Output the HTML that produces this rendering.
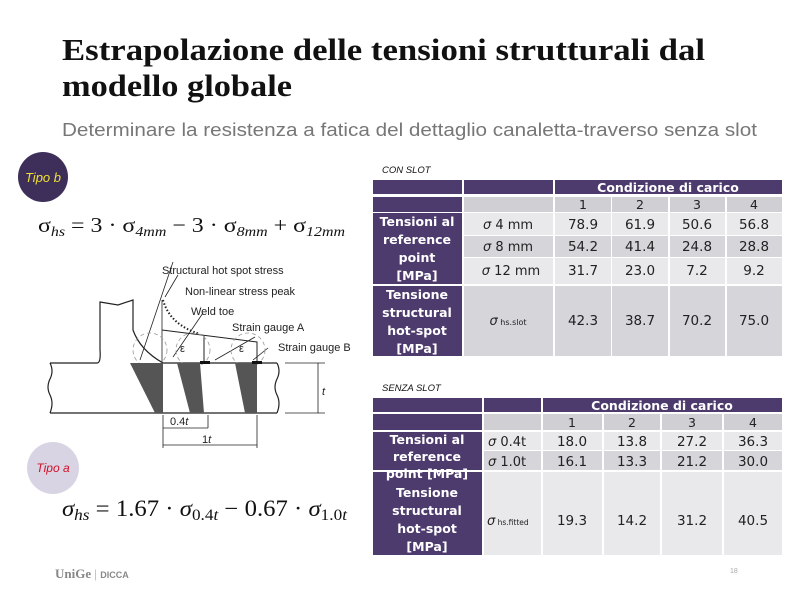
<!DOCTYPE html>
<html><head><meta charset="utf-8"><style>
html,body{margin:0;padding:0;background:#fff;width:800px;height:600px;overflow:hidden}
svg{display:block}
.lab{font-family:"DejaVu Sans","Liberation Sans",sans-serif;font-weight:bold;fill:#fff;font-size:12.5px}
.num{font-family:"DejaVu Sans","Liberation Sans",sans-serif;fill:#222;font-size:13.5px}
.hd{font-family:"DejaVu Sans","Liberation Sans",sans-serif;fill:#222;font-size:12.5px}
.sg{font-family:"DejaVu Sans","Liberation Sans",sans-serif;fill:#222;font-size:13px}
.dg{font-family:"Liberation Sans",sans-serif;fill:#222;font-size:11px}
</style></head><body>
<svg width="800" height="600" viewBox="0 0 800 600" xmlns="http://www.w3.org/2000/svg">
<rect width="800" height="600" fill="#fff"/>
<!-- Title -->
<text x="62" y="60" font-family="Liberation Serif,serif" font-weight="bold" font-size="31" fill="#111" textLength="643" lengthAdjust="spacingAndGlyphs">Estrapolazione delle tensioni strutturali dal</text>
<text x="62" y="96" font-family="Liberation Serif,serif" font-weight="bold" font-size="31" fill="#111" textLength="230" lengthAdjust="spacingAndGlyphs">modello globale</text>
<text x="62" y="136" font-family="Liberation Sans,sans-serif" font-size="18" fill="#777" textLength="695" lengthAdjust="spacingAndGlyphs">Determinare la resistenza a fatica del dettaglio canaletta-traverso  senza slot</text>

<!-- Tipo b -->
<circle cx="43" cy="177" r="25" fill="#3d2f5a"/>
<text x="43" y="182" text-anchor="middle" font-family="Liberation Sans,sans-serif" font-style="italic" font-size="13" fill="#f0e030">Tipo b</text>
<text x="38" y="232" font-family="Liberation Serif,serif" font-size="21" fill="#111" textLength="307" lengthAdjust="spacingAndGlyphs">σ<tspan font-style="italic" font-size="14" dy="4">hs</tspan><tspan dy="-4"> = 3 · σ</tspan><tspan font-style="italic" font-size="14" dy="4">4mm</tspan><tspan dy="-4"> − 3 · σ</tspan><tspan font-style="italic" font-size="14" dy="4">8mm</tspan><tspan dy="-4"> + σ</tspan><tspan font-style="italic" font-size="14" dy="4">12mm</tspan></text>

<!-- Diagram -->
<g stroke="#222" fill="none" stroke-width="1.2">
<path d="M50 363 H97 Q101 363 100 350 V302 L118 305 L133 300 V330 Q140 350 163 363 H277"/>
<path d="M50 413 H277"/>
<path d="M50 363 q4 8 0 16 q-4 8 0 16 q4 8 0 18"/>
<path d="M277 363 q4 8 0 16 q-4 8 0 16 q4 8 0 18"/>
<path d="M162 300 V363" stroke-width="0.8"/>
<path d="M162 330 L257 342 V363 M204 336 V363" stroke-width="1"/>
<path d="M163 300 Q170 325 200 334" stroke-dasharray="1.5 2" stroke-width="2"/>
<path d="M173 262 L140 360 M178 275 L165 297 M203 313 L173 357 M255 337 L215 360 M268 348 L253 360" stroke-width="0.8"/>
<path d="M285 363 H325 M285 413 H325 M318 363 V413" stroke-width="0.8"/>
<path d="M163 415 V448 M208 415 V428 M257 415 V448 M163 428 H208 M163 445 H257" stroke-width="0.8"/>
<circle cx="150" cy="350" r="17" stroke="#999" stroke-dasharray="4 3" stroke-width="0.8"/>
<circle cx="193" cy="350" r="17" stroke="#999" stroke-dasharray="4 3" stroke-width="0.8"/>
<circle cx="248" cy="350" r="17" stroke="#999" stroke-dasharray="4 3" stroke-width="0.8"/>
</g>
<g fill="#555">
<polygon points="130,363 163,363 163,413 155,413"/>
<polygon points="177,363 200,363 204,413 190,413"/>
<polygon points="235,363 257,363 257,413 245,413"/>
</g>
<rect x="200" y="361" width="10" height="3" fill="#111"/>
<rect x="252" y="361" width="10" height="3" fill="#111"/>
<text class="dg" x="162" y="274">Structural hot spot stress</text>
<text class="dg" x="185" y="295">Non-linear stress peak</text>
<text class="dg" x="191" y="315">Weld toe</text>
<text class="dg" x="232" y="331">Strain gauge A</text>
<text class="dg" x="278" y="351">Strain gauge B</text>
<text class="dg" x="180" y="352" font-size="9">ε</text>
<text class="dg" x="239" y="352" font-size="9">ε</text>
<text class="dg" x="322" y="395" font-style="italic">t</text>
<text class="dg" x="170" y="425">0.4<tspan font-style="italic">t</tspan></text>
<text class="dg" x="202" y="443">1<tspan font-style="italic">t</tspan></text>

<!-- Tipo a -->
<circle cx="53" cy="468" r="26" fill="#d9d4e3"/>
<text x="53" y="472" text-anchor="middle" font-family="Liberation Sans,sans-serif" font-style="italic" font-size="12" fill="#d0102a">Tipo a</text>
<text x="62" y="516" font-family="Liberation Serif,serif" font-size="23" fill="#111" textLength="285" lengthAdjust="spacingAndGlyphs"><tspan font-style="italic">σ</tspan><tspan font-style="italic" font-size="16" dy="4">hs</tspan><tspan dy="-4"> = 1.67 · </tspan><tspan font-style="italic">σ</tspan><tspan font-size="16" dy="4">0.4<tspan font-style="italic">t</tspan></tspan><tspan dy="-4"> − 0.67 · </tspan><tspan font-style="italic">σ</tspan><tspan font-size="16" dy="4">1.0<tspan font-style="italic">t</tspan></tspan></text>

<!-- Footer -->
<text x="55" y="578" font-family="Liberation Serif,serif" font-weight="bold" font-size="13" fill="#888">UniGe <tspan font-weight="normal" fill="#aaa">|</tspan> <tspan font-family="Liberation Sans,sans-serif" font-size="9">DICCA</tspan></text>
<text x="730" y="573" font-family="Liberation Sans,sans-serif" font-size="7" fill="#aaa">18</text>

<!-- CON SLOT -->
<text x="382" y="173" font-family="Liberation Sans,sans-serif" font-style="italic" font-size="9.5" fill="#111">CON SLOT</text>
<g>
<rect x="373" y="180" width="89" height="14" fill="#4e3b6e"/>
<rect x="464" y="180" width="89" height="14" fill="#4e3b6e"/>
<rect x="555" y="180" width="227" height="14" fill="#4e3b6e"/>
<rect x="373" y="197" width="89" height="15" fill="#4e3b6e"/>
<rect x="464" y="197" width="89" height="15" fill="#cfcfd4"/>
<rect x="555" y="197" width="56" height="15" fill="#cfcfd4"/>
<rect x="612" y="197" width="56" height="15" fill="#cfcfd4"/>
<rect x="670" y="197" width="55" height="15" fill="#cfcfd4"/>
<rect x="727" y="197" width="55" height="15" fill="#cfcfd4"/>
<rect x="373" y="213" width="89" height="71" fill="#4e3b6e"/>
<rect x="373" y="286" width="89" height="70" fill="#4e3b6e"/>
<g fill="#e9e9ec">
<rect x="464" y="213" width="89" height="22"/><rect x="555" y="213" width="56" height="22"/><rect x="612" y="213" width="56" height="22"/><rect x="670" y="213" width="55" height="22"/><rect x="727" y="213" width="55" height="22"/>
<rect x="464" y="258" width="89" height="26"/><rect x="555" y="258" width="56" height="26"/><rect x="612" y="258" width="56" height="26"/><rect x="670" y="258" width="55" height="26"/><rect x="727" y="258" width="55" height="26"/>
</g>
<g fill="#d5d5da">
<rect x="464" y="236" width="89" height="21"/><rect x="555" y="236" width="56" height="21"/><rect x="612" y="236" width="56" height="21"/><rect x="670" y="236" width="55" height="21"/><rect x="727" y="236" width="55" height="21"/>
<rect x="464" y="286" width="89" height="70"/><rect x="555" y="286" width="56" height="70"/><rect x="612" y="286" width="56" height="70"/><rect x="670" y="286" width="55" height="70"/><rect x="727" y="286" width="55" height="70"/>
</g>
<text class="lab" x="668" y="192" text-anchor="middle">Condizione di carico</text>
<g class="hd" text-anchor="middle"><text x="583" y="209">1</text><text x="640" y="209">2</text><text x="697" y="209">3</text><text x="754" y="209">4</text></g>
<g class="lab" text-anchor="middle"><text x="417" y="226">Tensioni al</text><text x="417" y="244">reference</text><text x="417" y="262">point</text><text x="417" y="280">[MPa]</text>
<text x="417" y="299">Tensione</text><text x="417" y="317">structural</text><text x="417" y="335">hot-spot</text><text x="417" y="353">[MPa]</text></g>
<g class="sg" text-anchor="middle"><text x="508" y="229"><tspan font-style="italic">σ</tspan> 4 mm</text><text x="508" y="251"><tspan font-style="italic">σ</tspan> 8 mm</text><text x="511" y="275"><tspan font-style="italic">σ</tspan> 12 mm</text><text x="508" y="325"><tspan font-style="italic">σ</tspan><tspan font-size="8"> hs.slot</tspan></text></g>
<g class="num" text-anchor="middle">
<text x="583" y="229">78.9</text><text x="640" y="229">61.9</text><text x="697" y="229">50.6</text><text x="754" y="229">56.8</text>
<text x="583" y="251">54.2</text><text x="640" y="251">41.4</text><text x="697" y="251">24.8</text><text x="754" y="251">28.8</text>
<text x="583" y="275">31.7</text><text x="640" y="275">23.0</text><text x="697" y="275">7.2</text><text x="754" y="275">9.2</text>
<text x="583" y="325">42.3</text><text x="640" y="325">38.7</text><text x="697" y="325">70.2</text><text x="754" y="325">75.0</text>
</g>
</g>

<!-- SENZA SLOT -->
<text x="382" y="391" font-family="Liberation Sans,sans-serif" font-style="italic" font-size="9.5" fill="#111">SENZA SLOT</text>
<g>
<rect x="373" y="398" width="109" height="14" fill="#4e3b6e"/>
<rect x="484" y="398" width="57" height="14" fill="#4e3b6e"/>
<rect x="543" y="398" width="239" height="14" fill="#4e3b6e"/>
<rect x="373" y="414" width="109" height="16" fill="#4e3b6e"/>
<g fill="#cfcfd4"><rect x="484" y="414" width="57" height="16"/><rect x="543" y="414" width="59" height="16"/><rect x="604" y="414" width="56" height="16"/><rect x="662" y="414" width="60" height="16"/><rect x="724" y="414" width="58" height="16"/></g>
<rect x="373" y="432" width="109" height="38" fill="#4e3b6e"/>
<rect x="373" y="472" width="109" height="83" fill="#4e3b6e"/>
<g fill="#e9e9ec"><rect x="484" y="432" width="57" height="18"/><rect x="543" y="432" width="59" height="18"/><rect x="604" y="432" width="56" height="18"/><rect x="662" y="432" width="60" height="18"/><rect x="724" y="432" width="58" height="18"/>
<rect x="484" y="472" width="57" height="83"/><rect x="543" y="472" width="59" height="83"/><rect x="604" y="472" width="56" height="83"/><rect x="662" y="472" width="60" height="83"/><rect x="724" y="472" width="58" height="83"/></g>
<g fill="#d5d5da"><rect x="484" y="451" width="57" height="19"/><rect x="543" y="451" width="59" height="19"/><rect x="604" y="451" width="56" height="19"/><rect x="662" y="451" width="60" height="19"/><rect x="724" y="451" width="58" height="19"/></g>
<text class="lab" x="662" y="410" text-anchor="middle">Condizione di carico</text>
<g class="hd" text-anchor="middle"><text x="572" y="427">1</text><text x="632" y="427">2</text><text x="692" y="427">3</text><text x="753" y="427">4</text></g>
<g class="lab" text-anchor="middle"><text x="427" y="444">Tensioni al</text><text x="427" y="461">reference</text><text x="427" y="478">point [MPa]</text>
<text x="427" y="497">Tensione</text><text x="427" y="515">structural</text><text x="427" y="533">hot-spot</text><text x="427" y="551">[MPa]</text></g>
<g class="sg"><text x="488" y="446"><tspan font-style="italic">σ</tspan>  0.4t</text><text x="488" y="466"><tspan font-style="italic">σ</tspan> 1.0t</text><text x="487" y="525"><tspan font-style="italic">σ</tspan><tspan font-size="7.5"> hs.fitted</tspan></text></g>
<g class="num" text-anchor="middle">
<text x="572" y="446">18.0</text><text x="632" y="446">13.8</text><text x="692" y="446">27.2</text><text x="753" y="446">36.3</text>
<text x="572" y="466">16.1</text><text x="632" y="466">13.3</text><text x="692" y="466">21.2</text><text x="753" y="466">30.0</text>
<text x="572" y="525">19.3</text><text x="632" y="525">14.2</text><text x="692" y="525">31.2</text><text x="753" y="525">40.5</text>
</g>
</g>
</svg>
</body></html>
